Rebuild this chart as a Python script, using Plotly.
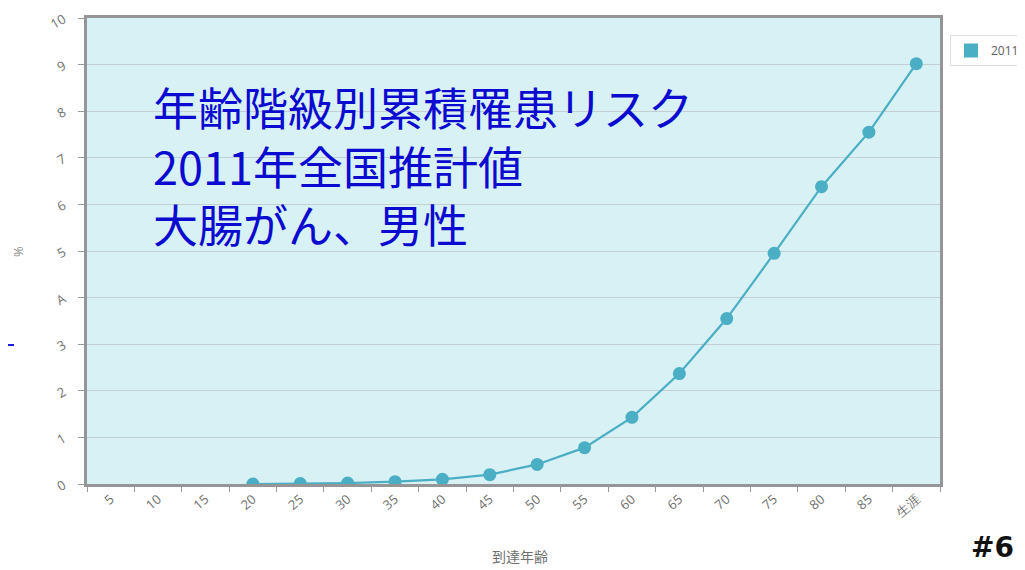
import plotly.graph_objects as go

categories = ["5", "10", "15", "20", "25", "30", "35", "40", "45", "50",
              "55", "60", "65", "70", "75", "80", "85", "生涯"]
risk_2011 = [None, None, None, 0.0, 0.01, 0.02, 0.05, 0.1, 0.2, 0.42,
             0.78, 1.43, 2.37, 3.55, 4.95, 6.38, 7.55, 9.02]
y_ticks = [0, 1, 2, 3, 4, 5, 6, 7, 8, 9, 10]
y_ticklabels = ["0", "1", "2", "3", "A", "5", "6", "7", "8", "9", "10"]
series_name = "2011"
title_lines = ["年齢階級別累積罹患リスク", "2011年全国推計値", "大腸がん、男性"]

line_color = "#4aaec4"
gray_text = "#707070"

fig = go.Figure()
fig.add_trace(go.Scatter(
    x=categories, y=risk_2011, mode="lines+markers",
    line=dict(color=line_color, width=2.2),
    marker=dict(color=line_color, size=13),
    showlegend=False, connectgaps=False,
))
fig.add_trace(go.Scatter(
    x=[None], y=[None], mode="markers", name=series_name,
    marker=dict(symbol="square", size=14, color=line_color),
))

W, H = 1025, 570
OFF = 8  # page body offset
# plot area in screen pixels: x 87..940, y 18..484
L = 87 - OFF
T = 18 - OFF
R = W - (940 - OFF)
B = H - (484 - OFF)
pw, ph = W - L - R, H - T - B

def px_to_paper(px, py):
    fx, fy = px - OFF, py - OFF
    return (fx - L) / pw, (H - B - fy) / ph

annotations = []
ax, ay = px_to_paper(151, 165)
annotations.append(dict(
    text="<br>".join(title_lines), xref="paper", yref="paper", x=ax, y=ay,
    xanchor="left", yanchor="middle", align="left", showarrow=False,
    font=dict(family="Noto Sans CJK JP", size=45, color="#0a0ad0"),
))

ax, ay = px_to_paper(520, 556)
annotations.append(dict(text="到達年齢", xref="paper", yref="paper", x=ax, y=ay,
                        showarrow=False, xanchor="center", yanchor="middle",
                        font=dict(family="Noto Sans CJK JP", size=14, color=gray_text)))
ax, ay = px_to_paper(18, 252)
annotations.append(dict(text="%", xref="paper", yref="paper", x=ax, y=ay,
                        showarrow=False, textangle=-90, xanchor="center", yanchor="middle",
                        font=dict(family="Open Sans", size=13, color="#909090")))
ax, ay = px_to_paper(992, 547)
annotations.append(dict(text="<b>#6</b>", xref="paper", yref="paper", x=ax, y=ay,
                        showarrow=False, xanchor="center", yanchor="middle",
                        font=dict(family="DejaVu Sans", size=28, color="#111111")))

x0, yd = px_to_paper(8, 345)
x1, _ = px_to_paper(14, 345)
lx, ly = px_to_paper(950, 35)

fig.update_layout(
    width=W, height=H,
    margin=dict(l=L, r=R, t=T, b=B, autoexpand=False),
    paper_bgcolor="white",
    plot_bgcolor="#d8f1f4",
    font=dict(family="Open Sans", color=gray_text),
    annotations=annotations,
    shapes=[dict(type="line", xref="paper", yref="paper", x0=x0, x1=x1, y0=yd, y1=yd,
                 line=dict(color="#1a1ae0", width=2))],
    legend=dict(x=lx, y=ly, xanchor="left", yanchor="top",
                bordercolor="#dddddd", borderwidth=1, bgcolor="white",
                font=dict(family="Open Sans", size=12, color="#606060"),
                itemwidth=30, tracegroupgap=0),
    xaxis=dict(
        type="category", categoryorder="array", categoryarray=categories,
        range=[-0.5, len(categories) - 0.5], automargin=False,
        tickson="boundaries", ticks="outside", ticklen=5, tickcolor="#999999",
        tickangle=-40, tickfont=dict(size=13, color=gray_text),
        showline=True, linecolor="#959595", linewidth=2.5, mirror=True,
        showgrid=False, zeroline=False,
    ),
    yaxis=dict(
        range=[0, 10], tickvals=y_ticks, ticktext=y_ticklabels, automargin=False,
        ticks="outside", ticklen=6, tickcolor="#999999",
        ticklabelstandoff=12,
        tickangle=-30, tickfont=dict(size=13, color=gray_text),
        showline=True, linecolor="#959595", linewidth=2.5, mirror=True,
        showgrid=True, gridcolor="#c4cfd1", gridwidth=1.2, zeroline=False,
    ),
)

fig.write_html("out.html")
